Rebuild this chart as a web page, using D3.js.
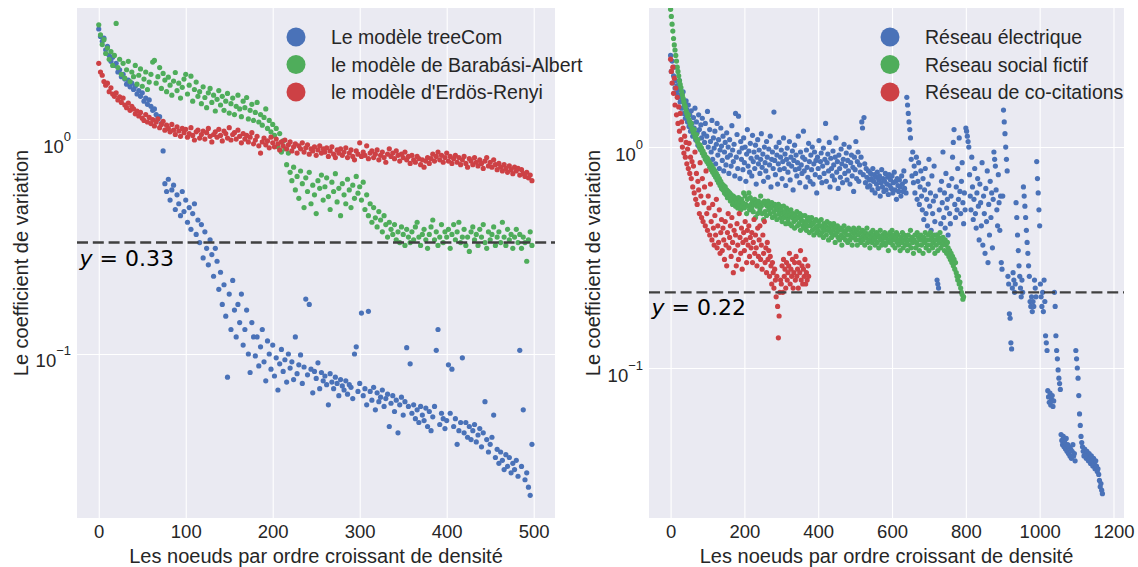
<!DOCTYPE html>
<html>
<head>
<meta charset="utf-8">
<script src="https://cdn.jsdelivr.net/npm/d3@7"></script>
<style>
  body { margin: 0; background: #fff; }
</style>
</head>
<body>
<svg id="fig" width="1138" height="567"></svg>
<script>
// ---------------------------------------------------------------------------
// Coefficient of variation per node, nodes sorted by increasing density.
// Left panel: synthetic models, every second rank (0, 2, 4, ...).
// ---------------------------------------------------------------------------
const treeComCV = [
  3.25, 3.0, 2.85, 2.95, 2.6, 2.7, 2.45, 2.3, 2.4, 2.2,
  2.25, 2.05, 2.1, 1.95, 2.0, 1.9, 1.8, 1.88, 1.75, 1.82,
  1.7, 1.76, 1.62, 1.68, 1.58, 1.64, 1.5, 1.55, 1.45, 1.52,
  1.42, 1.36, 1.38, 1.3, 1.24, 1.27, 1.18, 0.88, 0.62, 0.57,
  0.65, 0.52, 0.58, 0.61, 0.47, 0.55, 0.5, 0.44, 0.57, 0.46,
  0.52, 0.41, 0.48, 0.38, 0.45, 0.5, 0.36, 0.42, 0.33, 0.4,
  0.28, 0.37, 0.31, 0.26, 0.34, 0.29, 0.23, 0.31, 0.27, 0.2,
  0.24, 0.17, 0.21, 0.15, 0.078, 0.19, 0.13, 0.22, 0.16, 0.12,
  0.17, 0.14, 0.19, 0.11, 0.13, 0.16, 0.1, 0.082, 0.14, 0.12,
  0.098, 0.12, 0.088, 0.108, 0.13, 0.092, 0.075, 0.115, 0.1, 0.085,
  0.11, 0.079, 0.096, 0.068, 0.09, 0.105, 0.083, 0.094, 0.074, 0.1,
  0.086, 0.092, 0.076, 0.12, 0.081, 0.089, 0.099, 0.073, 0.087, 0.18,
  0.08, 0.17, 0.085, 0.066, 0.083, 0.077, 0.091, 0.069, 0.082, 0.075,
  0.079, 0.072, 0.058, 0.081, 0.074, 0.069, 0.078, 0.073, 0.064, 0.076,
  0.071, 0.068, 0.075, 0.065, 0.072, 0.07, 0.062, 0.1, 0.108, 0.067,
  0.073, 0.155, 0.064, 0.069, 0.058, 0.158, 0.067, 0.061, 0.07, 0.055,
  0.066, 0.06, 0.063, 0.068, 0.057, 0.062, 0.065, 0.046, 0.059, 0.064,
  0.054, 0.061, 0.043, 0.058, 0.063, 0.052, 0.06, 0.107, 0.057, 0.09,
  0.053, 0.058, 0.05, 0.055, 0.048, 0.057, 0.052, 0.049, 0.056, 0.046,
  0.054, 0.044, 0.051, 0.057, 0.104, 0.13, 0.047, 0.053, 0.05, 0.045,
  0.049, 0.089, 0.053, 0.085, 0.046, 0.05, 0.038, 0.044, 0.048, 0.096,
  0.043, 0.048, 0.041, 0.046, 0.04, 0.044, 0.047, 0.039, 0.042, 0.045,
  0.037, 0.043, 0.06, 0.04, 0.035, 0.038, 0.041, 0.052, 0.033, 0.036,
  0.031, 0.035, 0.032, 0.029, 0.034, 0.03, 0.033, 0.028, 0.031, 0.029,
  0.032, 0.027, 0.104, 0.03, 0.055, 0.026, 0.028, 0.024, 0.022, 0.038
];

const barabasiCV = [
  3.4, 3.05, 2.75, 2.9, 2.5, 2.65, 2.35, 2.55, 2.2, 2.45,
  3.45, 2.15, 2.35, 2.0, 2.25, 1.92, 2.1, 2.3, 1.85, 2.05,
  1.95, 2.2, 1.8, 1.98, 2.12, 1.76, 1.9, 2.05, 1.7, 1.84,
  2.0, 2.28, 2.32, 1.82, 1.95, 2.15, 1.72, 2.02, 1.88, 1.66,
  1.94, 1.78, 1.6, 1.86, 2.04, 1.68, 1.82, 1.55, 1.74, 1.9,
  2.0, 1.62, 1.78, 1.96, 1.5, 1.7, 1.84, 1.58, 1.66, 1.46,
  1.75, 1.56, 1.4, 1.64, 1.72, 1.48, 1.6, 1.35, 1.53, 1.68,
  1.44, 1.58, 1.36, 1.5, 1.63, 1.32, 1.46, 1.55, 1.3, 1.42,
  1.6, 1.38, 1.27, 1.5, 1.4, 1.56, 1.24, 1.36, 1.45, 1.22,
  1.33, 1.48, 1.2, 1.3, 1.16, 1.26, 1.38, 1.12, 1.22, 1.08,
  1.17, 1.04, 1.12, 0.92, 1.06, 0.87, 0.98, 0.9, 0.76, 0.86,
  0.7, 0.64, 0.74, 0.58, 0.67, 0.53, 0.71, 0.62, 0.48, 0.66,
  0.57, 0.7, 0.5, 0.61, 0.55, 0.45, 0.64, 0.59, 0.68, 0.52,
  0.6, 0.66, 0.54, 0.47, 0.63, 0.57, 0.69, 0.51, 0.59, 0.44,
  0.62, 0.55, 0.5, 0.65, 0.58, 0.48, 0.61, 0.53, 0.67, 0.56,
  0.6, 0.52, 0.63, 0.47, 0.55, 0.44, 0.5, 0.41, 0.48, 0.43,
  0.39, 0.46, 0.42, 0.37, 0.44, 0.4, 0.35, 0.41, 0.38, 0.36,
  0.4, 0.34, 0.37, 0.33, 0.39, 0.36, 0.32, 0.38, 0.35, 0.33,
  0.37, 0.34, 0.39, 0.41, 0.35, 0.32, 0.36, 0.38, 0.34, 0.31,
  0.36, 0.39, 0.42, 0.34, 0.37, 0.32, 0.35, 0.4, 0.33, 0.37,
  0.35, 0.38, 0.31, 0.36, 0.4, 0.34, 0.37, 0.41, 0.33, 0.35,
  0.38, 0.32, 0.35, 0.3, 0.37, 0.39, 0.34, 0.36, 0.32, 0.38,
  0.35, 0.4, 0.33, 0.31, 0.37, 0.34, 0.36, 0.39, 0.32, 0.35,
  0.37, 0.33, 0.41, 0.35, 0.32, 0.38, 0.34, 0.36, 0.31, 0.35,
  0.38, 0.33, 0.36, 0.31, 0.35, 0.33, 0.27, 0.34, 0.37, 0.32
];

const erdosRenyiCV = [
  2.25, 2.05, 1.98, 1.85, 1.78, 1.82, 1.66, 1.73, 1.62, 1.58,
  1.64, 1.52, 1.57, 1.48, 1.55, 1.44, 1.4, 1.47, 1.36, 1.42,
  1.38, 1.31, 1.35, 1.28, 1.33, 1.25, 1.22, 1.3, 1.2, 1.26,
  1.18, 1.23, 1.15, 1.2, 1.24, 1.13, 1.17, 1.21, 1.1, 1.16,
  1.12, 1.08, 1.17, 1.1, 1.05, 1.14, 1.09, 1.03, 1.12, 1.07,
  1.11, 1.02, 1.06, 1.13, 1.04, 0.99, 1.08, 1.1, 1.01, 1.05,
  1.09, 1.0, 1.07, 1.12, 1.03, 0.97, 1.05, 1.08, 1.02, 1.11,
  1.04, 0.98, 1.09, 1.06, 1.01, 1.13, 0.99, 1.05, 1.07, 1.0,
  1.1, 1.03, 0.96, 1.06, 1.0, 1.04, 0.97, 1.02, 1.07, 0.95,
  0.99, 1.03, 0.93, 0.86, 0.97, 1.01, 0.94, 0.98, 0.91, 1.02,
  0.96, 0.92, 1.0, 0.95, 0.89, 0.97, 0.93, 0.99, 0.9, 0.94,
  0.97, 0.88, 0.92, 0.95, 0.86, 0.93, 0.9, 0.96, 0.87, 0.91,
  0.94, 0.85, 0.9, 0.88, 0.92, 0.84, 0.89, 0.93, 0.86, 0.9,
  0.87, 0.91, 0.83, 0.88, 0.92, 0.85, 0.82, 0.89, 0.86, 0.9,
  0.84, 0.87, 0.91, 0.82, 0.86, 0.89, 0.83, 0.8, 0.88, 0.85,
  0.96, 0.83, 0.87, 0.84, 0.93, 0.81, 0.86, 0.88, 0.82, 0.85,
  0.89, 0.8, 0.84, 0.87, 0.82, 0.78, 0.85, 0.9, 0.83, 0.86,
  0.81, 0.88, 0.84, 0.79, 0.85, 0.82, 0.87, 0.8, 0.83, 0.77,
  0.84, 0.8, 0.78, 0.83, 0.81, 0.76, 0.8, 0.74, 0.79, 0.82,
  0.77, 0.81, 0.85, 0.79, 0.83, 0.87, 0.8, 0.84, 0.78, 0.82,
  0.86, 0.79, 0.83, 0.77, 0.81, 0.84, 0.78, 0.82, 0.76, 0.8,
  0.83, 0.77, 0.74, 0.81, 0.79, 0.76, 0.82, 0.78, 0.75, 0.8,
  0.77, 0.73, 0.79, 0.82, 0.75, 0.78, 0.74, 0.8, 0.76, 0.72,
  0.77, 0.74, 0.71, 0.76, 0.73, 0.7, 0.75, 0.72, 0.69, 0.74,
  0.71, 0.73, 0.68, 0.72, 0.69, 0.67, 0.7, 0.66, 0.68, 0.64
];

// Right panel: real networks, every second rank.
const powerGridCV = [
  2.6, 2.2, 2.45, 1.95, 2.1, 2.3, 1.85, 2.0, 1.75, 1.9,
  1.68, 1.82, 2.0, 1.6, 1.72, 1.5, 1.65, 1.78, 1.42, 1.56,
  1.35, 1.62, 1.48, 1.3, 1.55, 1.24, 1.4, 1.18, 1.46, 1.28,
  1.12, 1.36, 1.22, 1.5, 1.08, 1.3, 1.16, 1.02, 1.4, 1.2,
  0.98, 1.26, 1.1, 1.35, 0.94, 1.15, 1.05, 1.28, 0.9, 1.12,
  1.45, 1.0, 0.86, 1.2, 1.06, 0.95, 1.32, 0.88, 1.1, 0.99,
  1.18, 0.84, 1.03, 1.28, 0.92, 1.08, 0.8, 0.97, 1.22, 1.01,
  0.87, 1.12, 0.78, 0.95, 1.05, 0.83, 1.16, 0.9, 1.0, 0.76,
  1.08, 0.92, 0.82, 1.25, 0.97, 0.86, 1.03, 0.74, 1.42, 0.9,
  1.14, 0.8, 1.38, 0.95, 0.72, 1.06, 0.88, 0.99, 0.79, 1.1,
  0.85, 1.0, 0.7, 0.93, 1.2, 0.82, 0.96, 0.77, 1.04, 0.89,
  0.74, 1.13, 0.86, 0.95, 0.8, 1.02, 0.68, 0.9, 1.08, 0.84,
  0.97, 0.76, 0.88, 1.15, 0.81, 0.93, 0.7, 1.0, 0.85, 0.78,
  1.06, 0.9, 0.73, 0.98, 0.83, 1.12, 0.66, 0.88, 0.95, 0.8,
  1.44, 0.87, 0.75, 1.0, 0.92, 0.68, 0.84, 1.05, 0.79, 0.9,
  0.97, 0.72, 0.86, 1.1, 0.8, 0.93, 0.67, 0.88, 0.99, 0.77,
  0.84, 1.06, 0.71, 0.9, 0.82, 0.96, 0.64, 0.87, 1.02, 0.79,
  0.92, 0.74, 0.85, 1.12, 0.8, 0.69, 0.95, 0.83, 0.76, 0.9,
  1.18, 0.78, 0.88, 0.66, 0.97, 0.81, 0.73, 1.04, 0.86, 0.7,
  0.92, 0.79, 1.0, 0.68, 0.84, 0.95, 0.75, 0.87, 0.62, 0.9,
  0.8, 1.07, 0.73, 0.86, 0.94, 0.69, 0.82, 0.99, 0.76, 0.88,
  1.28, 0.7, 0.85, 0.93, 0.78, 1.05, 0.66, 0.89, 0.8, 0.74,
  0.96, 0.83, 0.71, 0.9, 1.1, 0.77, 0.86, 0.65, 0.92, 0.8,
  0.73, 0.98, 0.84, 0.69, 0.88, 1.03, 0.76, 0.82, 0.94, 0.71,
  0.87, 0.78, 1.0, 0.68, 0.85, 0.92, 0.74, 0.81, 0.63, 0.9,
  0.79, 1.06, 0.72, 0.86, 0.95, 0.7, 0.83, 0.77, 0.9, 1.3,
  1.22, 0.75, 1.36, 0.84, 0.69, 0.8, 0.73, 0.66, 0.78, 0.71,
  0.67, 0.76, 0.72, 0.64, 0.8, 0.7, 0.75, 0.62, 0.73, 0.68,
  0.77, 0.65, 0.71, 0.74, 0.6, 0.69, 0.79, 0.66, 0.72, 0.63,
  0.7, 0.76, 0.64, 0.68, 0.73, 0.61, 0.75, 0.67, 0.71, 0.65,
  0.74, 0.62, 0.69, 0.77, 0.64, 0.7, 0.58, 0.72, 0.67, 0.63,
  0.71, 0.66, 0.6, 0.74, 0.68, 0.63, 0.78, 0.65, 0.7, 0.62,
  1.68, 1.55, 1.42, 1.3, 1.2, 1.1, 0.88, 0.74, 0.95, 0.69,
  0.82, 0.62, 0.76, 0.9, 0.58, 0.7, 0.85, 0.55, 0.66, 0.78,
  0.6, 0.52, 0.72, 0.47, 0.64, 0.8, 0.5, 0.58, 0.44, 0.68,
  0.88, 0.54, 0.62, 0.42, 0.74, 0.5, 0.57, 0.82, 0.46, 0.6,
  0.4, 0.25, 0.24, 0.23, 0.52, 0.64, 0.45, 0.7, 0.56, 0.95,
  0.48, 0.62, 0.43, 0.76, 0.53, 0.58, 0.4, 0.67, 0.5, 0.45,
  0.6, 0.72, 0.9, 1.05, 1.2, 0.55, 0.48, 0.66, 0.52, 0.8,
  0.58, 1.1, 0.63, 0.5, 0.7, 0.85, 0.56, 0.45, 0.62, 0.52,
  1.22, 1.18, 1.12, 1.06, 1.0, 0.75, 0.6, 0.52, 0.9, 0.66,
  0.47, 0.58, 0.8, 0.5, 0.43, 0.62, 0.72, 0.54, 0.38, 0.68,
  0.56, 0.44, 0.85, 0.36, 0.6, 0.5, 0.33, 0.65, 0.46, 0.78,
  0.3, 0.55, 0.4, 0.7, 0.48, 0.62, 0.35, 0.58, 0.95, 0.88,
  0.82, 0.64, 0.52, 0.44, 0.75, 0.56, 0.42, 0.6, 0.3, 0.28,
  0.6, 1.47, 1.3, 1.15, 1.0, 0.88, 0.78, 0.26, 0.24, 0.176,
  0.168, 0.13, 0.122, 0.23, 0.27, 0.25, 0.22, 0.24, 0.56, 0.48,
  0.4, 0.34, 0.29, 0.26, 0.23, 0.21, 0.25, 0.22, 0.66, 0.6,
  0.54, 0.48, 0.42, 0.37, 0.33, 0.29, 0.26, 0.2, 0.19, 0.21,
  0.18, 0.2, 0.19, 0.25, 0.23, 0.21, 0.86, 0.72, 0.62, 0.52,
  0.44, 0.24, 0.21, 0.19, 0.22, 0.18, 0.25, 0.2, 0.14, 0.13,
  0.12, 0.079, 0.074, 0.07, 0.077, 0.068, 0.072, 0.075, 0.067, 0.071,
  0.22, 0.19, 0.14, 0.12, 0.11, 0.098, 0.09, 0.085, 0.08, 0.05,
  0.047, 0.045, 0.049, 0.044, 0.046, 0.043, 0.048, 0.042, 0.045, 0.041,
  0.044, 0.04, 0.043, 0.039, 0.042, 0.045, 0.04, 0.041, 0.038, 0.12,
  0.11, 0.1, 0.09, 0.075, 0.062, 0.055, 0.049, 0.046, 0.044, 0.042,
  0.04, 0.043, 0.041, 0.039, 0.042, 0.04, 0.038, 0.041, 0.039, 0.037,
  0.04, 0.038, 0.036, 0.039, 0.037, 0.035, 0.038, 0.036, 0.034, 0.035,
  0.033, 0.031, 0.029, 0.03, 0.028, 0.027
];

const socialCV = [
  4.2, 3.9, 3.6, 3.35, 3.1, 2.9, 2.75, 2.6, 2.45, 2.3,
  2.2, 2.1, 2.0, 1.92, 1.86, 1.78, 1.72, 1.66, 1.6, 1.55,
  1.52, 1.46, 1.42, 1.38, 1.4, 1.33, 1.3, 1.26, 1.28, 1.22,
  1.19, 1.16, 1.2, 1.12, 1.1, 1.14, 1.06, 1.08, 1.03, 1.0,
  1.02, 0.97, 0.99, 0.94, 0.96, 0.91, 0.93, 0.88, 0.9, 0.86,
  0.89, 0.84, 0.86, 0.81, 0.84, 0.79, 0.82, 0.77, 0.8, 0.75,
  0.78, 0.73, 0.76, 0.71, 0.74, 0.69, 0.72, 0.67, 0.7, 0.65,
  0.68, 0.64, 0.67, 0.62, 0.66, 0.61, 0.64, 0.59, 0.63, 0.6,
  0.62, 0.57, 0.61, 0.58, 0.55, 0.6, 0.56, 0.59, 0.54, 0.58,
  0.56, 0.53, 0.59, 0.55, 0.57, 0.52, 0.58, 0.54, 0.56, 0.62,
  0.53, 0.6, 0.55, 0.5, 0.58, 0.54, 0.62, 0.52, 0.59, 0.55,
  0.53, 0.57, 0.51, 0.55, 0.58, 0.48, 0.56, 0.54, 0.5, 0.57,
  0.55, 0.52, 0.6, 0.54, 0.5, 0.56, 0.47, 0.57, 0.51, 0.55,
  0.49, 0.54, 0.57, 0.52, 0.55, 0.5, 0.53, 0.56, 0.48, 0.54,
  0.51, 0.55, 0.49, 0.53, 0.47, 0.52, 0.55, 0.5, 0.54, 0.48,
  0.52, 0.46, 0.5, 0.54, 0.48, 0.51, 0.45, 0.53, 0.49, 0.47,
  0.51, 0.45, 0.49, 0.52, 0.44, 0.48, 0.5, 0.46, 0.43, 0.49,
  0.47, 0.51, 0.44, 0.48, 0.45, 0.5, 0.42, 0.47, 0.49, 0.44,
  0.46, 0.43, 0.49, 0.45, 0.42, 0.47, 0.44, 0.48, 0.41, 0.46,
  0.44, 0.48, 0.42, 0.45, 0.4, 0.46, 0.43, 0.47, 0.41, 0.44,
  0.42, 0.46, 0.4, 0.44, 0.47, 0.41, 0.43, 0.39, 0.45, 0.42,
  0.44, 0.4, 0.46, 0.42, 0.38, 0.43, 0.45, 0.41, 0.39, 0.44,
  0.42, 0.45, 0.4, 0.37, 0.43, 0.41, 0.44, 0.39, 0.42, 0.38,
  0.43, 0.4, 0.36, 0.42, 0.39, 0.44, 0.41, 0.38, 0.42, 0.4,
  0.37, 0.43, 0.4, 0.38, 0.42, 0.39, 0.36, 0.41, 0.43, 0.39,
  0.41, 0.38, 0.42, 0.36, 0.4, 0.43, 0.38, 0.41, 0.37, 0.39,
  0.42, 0.38, 0.4, 0.36, 0.41, 0.39, 0.43, 0.37, 0.4, 0.38,
  0.35, 0.41, 0.39, 0.37, 0.42, 0.38, 0.4, 0.36, 0.39, 0.41,
  0.37, 0.4, 0.35, 0.39, 0.42, 0.38, 0.36, 0.4, 0.37, 0.39,
  0.41, 0.36, 0.39, 0.37, 0.4, 0.34, 0.38, 0.41, 0.37, 0.39,
  0.42, 0.36, 0.4, 0.38, 0.35, 0.39, 0.41, 0.37, 0.4, 0.36,
  0.38, 0.34, 0.39, 0.37, 0.41, 0.35, 0.38, 0.4, 0.36, 0.39,
  0.37, 0.34, 0.4, 0.36, 0.38, 0.42, 0.35, 0.39, 0.37, 0.33,
  0.38, 0.4, 0.35, 0.37, 0.41, 0.36, 0.39, 0.34, 0.38, 0.4,
  0.36, 0.38, 0.33, 0.39, 0.37, 0.41, 0.35, 0.38, 0.36, 0.4,
  0.34, 0.38, 0.41, 0.36, 0.39, 0.35, 0.37, 0.4, 0.33, 0.38,
  0.36, 0.4, 0.34, 0.39, 0.37, 0.41, 0.35, 0.38, 0.36, 0.39,
  0.37, 0.34, 0.38, 0.36, 0.33, 0.37, 0.35, 0.32, 0.34, 0.31,
  0.33, 0.3, 0.32, 0.29, 0.31, 0.28, 0.3, 0.27, 0.26, 0.25,
  0.26, 0.24, 0.245, 0.23, 0.22, 0.215, 0.205, 0.21
];

const coCitationCV = [
  2.5, 2.2, 1.95, 2.3, 1.75, 2.05, 1.55, 1.85, 1.4, 1.68,
  1.28, 1.52, 1.18, 1.42, 1.08, 1.3, 1.0, 1.22, 0.94, 1.12,
  0.9, 1.05, 0.84, 0.98, 0.8, 1.04, 0.76, 0.9, 0.72, 0.86,
  0.66, 0.82, 0.62, 0.95, 0.58, 0.76, 0.55, 0.7, 0.64, 0.5,
  0.85, 0.6, 0.48, 0.72, 0.46, 0.56, 0.66, 0.44, 0.78, 0.5,
  0.42, 0.6, 0.53, 0.4, 0.68, 0.46, 0.38, 0.55, 0.43, 0.36,
  0.49, 0.4, 0.58, 0.35, 0.44, 0.37, 0.52, 0.33, 0.41, 0.47,
  0.34, 0.43, 0.38, 0.31, 0.46, 0.36, 0.29, 0.41, 0.5, 0.35,
  0.39, 0.44, 0.32, 0.48, 0.37, 0.27, 0.42, 0.34, 0.4, 0.29,
  0.45, 0.36, 0.31, 0.5, 0.39, 0.33, 0.43, 0.28, 0.37, 0.41,
  0.34, 0.46, 0.38, 0.3, 0.42, 0.36, 0.44, 0.32, 0.39, 0.35,
  0.41, 0.3, 0.37, 0.47, 0.33, 0.4, 0.35, 0.29, 0.43, 0.32,
  0.38, 0.44, 0.31, 0.36, 0.28, 0.4, 0.33, 0.46, 0.3, 0.35,
  0.27, 0.37, 0.31, 0.34, 0.26, 0.32, 0.29, 0.24, 0.3, 0.27,
  0.23, 0.28, 0.25, 0.21, 0.26, 0.19, 0.137, 0.172, 0.22, 0.25,
  0.24, 0.29, 0.22, 0.31, 0.26, 0.28, 0.23, 0.3, 0.25, 0.27,
  0.29, 0.33, 0.24, 0.28, 0.26, 0.31, 0.23, 0.27, 0.3, 0.25,
  0.32, 0.26, 0.28, 0.23, 0.3, 0.27, 0.34, 0.25, 0.29, 0.24,
  0.28, 0.26, 0.31, 0.24, 0.27, 0.25, 0.29, 0.26
];

const leftTicksX = [0, 100, 200, 300, 400, 500];
const rightTicksX = [0, 200, 400, 600, 800, 1000, 1200];
const decadeTicks = [1, 0.1];

const leftNames = ["Le modèle treeCom", "le modèle de Barabási-Albert", "le modèle d'Erdös-Renyi"];
const rightNames = ["Réseau électrique", "Réseau social fictif", "Réseau de co-citations"];

const leftThreshold = 0.33;
const rightThreshold = 0.22;

const xTitle = "Les noeuds par ordre croissant de densité";
const yTitle = "Le coefficient de variation";

// ---------------------------------------------------------------------------
const COLORS = ["#4a72b8", "#4fad5b", "#cd4145"];
const BG = "#EAEAF2";
const INK = "#262626";
const FONT = "'Liberation Sans', Arial, sans-serif";
const MATH_FONT = "'DejaVu Sans', sans-serif";

const svg = d3.select("#fig");
const defs = svg.append("defs");

// each value sits at its rank; ranks are sampled with a fixed stride
const ranked = (values, stride) => values.map((v, i) => ({ rank: i * stride, cv: v }));

const panels = [
  {
    id: "left",
    left: 77, right: 555, top: 8, bottom: 518,
    xDomain: [-25, 524.5], yDomain: [0.01726, 4.07],
    xTicks: leftTicksX,
    series: [ranked(treeComCV, 2), ranked(barabasiCV, 2), ranked(erdosRenyiCV, 2)],
    names: leftNames,
    threshold: leftThreshold,
    legendX: 296
  },
  {
    id: "right",
    left: 649, right: 1124, top: 8, bottom: 518,
    xDomain: [-58.5, 1228.5], yDomain: [0.02095, 4.26],
    xTicks: rightTicksX,
    series: [ranked(powerGridCV, 2), ranked(socialCV, 2), ranked(coCitationCV, 2)],
    names: rightNames,
    threshold: rightThreshold,
    legendX: 890
  }
];

panels.forEach(drawPanel);

function drawPanel(p) {
  const w = p.right - p.left, h = p.bottom - p.top;
  const x = d3.scaleLinear().domain(p.xDomain).range([p.left, p.right]);
  const y = d3.scaleLog().domain(p.yDomain).range([p.bottom, p.top]);

  const g = svg.append("g").attr("class", "panel-" + p.id);

  defs.append("clipPath").attr("id", "clip-" + p.id)
    .append("rect").attr("x", p.left).attr("y", p.top).attr("width", w).attr("height", h);

  // axes background
  g.append("rect")
    .attr("x", p.left).attr("y", p.top).attr("width", w).attr("height", h)
    .attr("fill", BG);

  // white grid
  g.append("g")
    .attr("transform", `translate(0,${p.bottom})`)
    .call(d3.axisBottom(x).tickValues(p.xTicks).tickSize(-h).tickFormat(""))
    .call(a => {
      a.select(".domain").remove();
      a.selectAll("line").attr("stroke", "#fff").attr("stroke-width", 1.1);
    });
  g.append("g")
    .attr("transform", `translate(${p.left},0)`)
    .call(d3.axisLeft(y).tickValues(decadeTicks).tickSize(-w).tickFormat(""))
    .call(a => {
      a.select(".domain").remove();
      a.selectAll("line").attr("stroke", "#fff").attr("stroke-width", 1.1);
    });

  // x tick labels
  g.append("g")
    .attr("transform", `translate(0,${p.bottom})`)
    .call(d3.axisBottom(x).tickValues(p.xTicks).tickSize(0).tickPadding(7).tickFormat(d3.format("d")))
    .call(a => {
      a.select(".domain").remove();
      a.attr("font-family", FONT).attr("font-size", 18.5);
      a.selectAll("text").attr("fill", INK);
    });

  // y tick labels as powers of ten
  g.append("g")
    .attr("transform", `translate(${p.left},0)`)
    .call(d3.axisLeft(y).tickValues(decadeTicks).tickSize(0).tickPadding(6).tickFormat(() => ""))
    .call(a => {
      a.select(".domain").remove();
      a.attr("font-family", FONT).attr("font-size", 18.5);
      a.selectAll("text").each(function (d) {
        const t = d3.select(this).attr("dy", null).attr("y", 13).attr("fill", INK);
        const e = Math.round(Math.log10(d));
        t.append("tspan").text("10");
        t.append("tspan").attr("dy", -12).attr("font-size", 13)
          .text(e < 0 ? "\u2212" + Math.abs(e) : String(e));
      });
    });

  // scatter
  const plot = g.append("g").attr("clip-path", `url(#clip-${p.id})`);
  p.series.forEach((pts, k) => {
    plot.append("g")
      .attr("fill", COLORS[k])
      .selectAll("circle")
      .data(pts)
      .join("circle")
      .attr("cx", d => x(d.rank))
      .attr("cy", d => y(d.cv))
      .attr("r", 2.6);
  });

  // threshold line and its label
  const ty = y(p.threshold);
  g.append("line")
    .attr("x1", p.left).attr("x2", p.right)
    .attr("y1", ty).attr("y2", ty)
    .attr("stroke", "#404040").attr("stroke-width", 2.4)
    .attr("stroke-dasharray", "11,4.8");
  const lab = g.append("text")
    .attr("x", p.left + 2.5).attr("y", ty + 23)
    .style("font-family", MATH_FONT)
    .attr("font-size", 22).attr("fill", "#000");
  lab.append("tspan").attr("font-style", "italic").text("y");
  lab.append("tspan").text(" = " + p.threshold.toFixed(2));

  // legend
  const leg = g.append("g");
  p.names.forEach((name, k) => {
    const cy = 37 + k * 27.5;
    leg.append("circle").attr("cx", p.legendX).attr("cy", cy).attr("r", 9.5).attr("fill", COLORS[k]);
    leg.append("text")
      .attr("x", p.legendX + 35).attr("y", cy).attr("dy", "0.36em")
      .attr("font-family", FONT).attr("font-size", 19.5).attr("fill", INK)
      .text(name);
  });

  // axis titles
  g.append("text")
    .attr("x", (p.left + p.right) / 2).attr("y", 563)
    .attr("text-anchor", "middle")
    .attr("font-family", FONT).attr("font-size", 20).attr("fill", INK)
    .text(xTitle);
  g.append("text")
    .attr("transform", `translate(${p.left - 49},${(p.top + p.bottom) / 2}) rotate(-90)`)
    .attr("text-anchor", "middle")
    .attr("font-family", FONT).attr("font-size", 20).attr("fill", INK)
    .text(yTitle);
}
</script>
</body>
</html>
